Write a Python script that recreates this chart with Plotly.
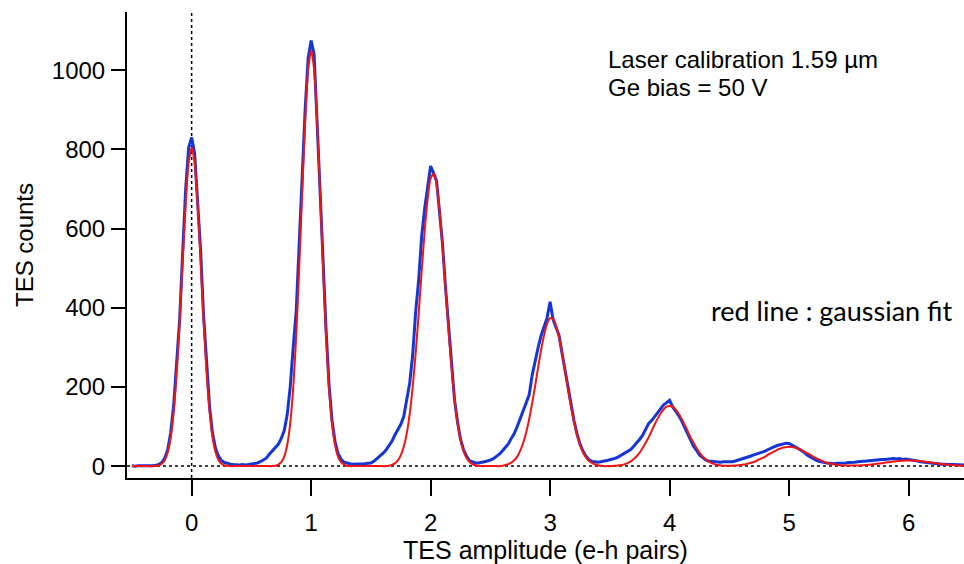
import plotly.graph_objects as go

# Histogram bins (TES amplitude in e-h pairs)
bin_start = -0.5
bin_width = 0.025

# Measured TES counts per bin (blue histogram)
tes_counts = [
    1, 0, 1, 1, 0, 1, 1, 1,
    2, 4, 9, 20, 42, 85, 155, 255, 372, 540, 700, 805, 830, 790, 660, 545, 380, 255, 150, 82, 45, 25, 14, 9, 6,
    5, 4, 3, 3, 4, 3, 4, 5, 6, 8, 11, 15, 20, 30, 38,
    45, 55, 70, 90, 130, 200, 300, 390, 560, 750, 900, 1030, 1075, 1040, 880, 700, 520, 345, 205, 115, 62, 32, 18, 10, 7,
    6, 5, 5, 5, 6, 6, 7, 8, 12, 18, 24, 32, 40,
    52, 62, 78, 90, 105, 125, 165, 210, 280, 390, 470, 580, 650, 705, 758, 740, 720, 640, 560, 450, 350, 255, 168, 112, 68, 42, 25, 14, 10, 8, 8,
    9, 11, 13, 15, 19, 24, 30,
    38, 46, 56, 70, 82, 100, 120, 140, 160, 180, 230, 270, 300, 330, 350, 375, 415, 370, 350, 330, 285, 240, 195, 152, 115, 82, 56, 38, 25, 16, 12, 11, 10, 11,
    12, 14, 16, 18,
    20, 24, 28, 32, 36, 42, 50, 58, 68, 78, 92, 108, 115, 125, 135, 148, 155, 160, 166, 150, 140, 128, 115, 98, 82, 66, 50, 40, 28, 22, 16, 13, 12, 11, 11, 10, 11, 11, 12,
    11, 13, 15, 18, 20, 22, 25, 28, 30, 33, 36, 38, 42, 46, 50, 52, 54, 56, 58, 57, 53, 50, 46, 40, 35, 28, 24, 19, 15, 12, 10, 8, 7, 7, 6, 7, 7, 8, 8, 9,
    9, 10, 11, 11, 12, 13, 14, 15, 15, 16, 17, 17, 18, 18, 19, 18, 19, 17, 18, 17, 16, 14, 13, 11, 10, 9, 8, 7, 6, 6, 5, 5, 4, 4, 4, 4, 3, 4, 3,
]

# Gaussian fit curve (red), read at the same bins
gauss_fit = [
    0, 0, 0, 0, 0, 0, 0, 0,
    1, 2, 6, 15, 35, 73, 139, 237, 369, 519, 662, 767, 805, 767, 662, 519, 369, 237, 139, 73, 35, 15, 6, 2, 1,
    0, 0, 0, 0, 0, 0, 0, 0, 0, 0, 0, 0, 0, 0, 0,
    1, 4, 10, 24, 54, 108, 197, 329, 499, 691, 872, 1002, 1050, 1002, 872, 691, 499, 329, 197, 108, 54, 24, 10, 4, 1,
    0, 0, 0, 0, 0, 0, 0, 0, 0, 0, 0, 0, 0,
    1, 3, 7, 14, 27, 49, 82, 132, 200, 285, 385, 491, 593, 675, 727, 739, 710, 645, 554, 449, 344, 249, 170, 110, 67, 39, 21, 11, 5, 2, 1,
    0, 0, 0, 0, 0, 0, 0,
    1, 3, 5, 9, 15, 24, 39, 59, 85, 119, 159, 203, 250, 294, 332, 360, 374, 372, 355, 325, 286, 240, 194, 150, 112, 79, 54, 35, 22, 13, 8, 4, 2, 1,
    0, 0, 0, 0.5,
    1, 2, 3, 5, 8, 12, 18, 25, 34, 46, 59, 73, 89, 105, 120, 133, 143, 150, 152, 150, 143, 133, 120, 105, 89, 73, 59, 46, 34, 25, 18, 12, 8, 5, 3, 2, 1, 1, 1,
    1, 1.5, 2, 3, 4, 6, 8, 10, 13, 17, 20, 24, 29, 33, 37, 41, 44, 47, 48, 49, 48, 47, 44, 41, 37, 33, 29, 24, 20, 17, 13, 10, 8, 6, 4.5, 3.2, 2.2, 1.8, 1.5, 1.6,
    1.3, 1.4, 1.7, 2.0, 2.4, 3.0, 3.7, 4.5, 5.4, 6.4, 7.4, 8.5, 9.5, 10.6, 11.5, 12.4, 13.0, 13.6, 13.9, 14.0, 13.9, 13.6, 13.0, 12.4, 11.5, 10.6, 9.5, 8.5, 7.4, 6.4, 5.4, 4.5, 3.7, 3.0, 2.4, 1.9, 1.5, 1.1, 0.8,
]

amplitude = [round(bin_start + i * bin_width, 4) for i in range(len(tes_counts))]

x_ticks = [0, 1, 2, 3, 4, 5, 6]
y_ticks = [0, 200, 400, 600, 800, 1000]

FONT = "Liberation Sans, Arial, sans-serif"

fig = go.Figure()
fig.add_trace(go.Scatter(
    x=amplitude, y=tes_counts, mode="lines",
    line=dict(color="#1536d4", width=3),
    name="TES counts",
))
fig.add_trace(go.Scatter(
    x=amplitude, y=gauss_fit, mode="lines",
    line=dict(color="#f01414", width=2, shape="spline", smoothing=0.6),
    name="gaussian fit",
))

# dotted reference lines at x=0 and y=0
fig.add_shape(type="line", xref="x", yref="paper", x0=0, x1=0, y0=0, y1=1.0,
              line=dict(color="black", width=1.5, dash="dot"), layer="below")
fig.add_shape(type="line", xref="paper", yref="y", x0=0, x1=1, y0=0, y1=0,
              line=dict(color="black", width=1.5, dash="dot"), layer="below")

fig.add_annotation(text="Laser calibration 1.59 µm", xref="paper", yref="paper",
                   x=0.5723, y=0.897, xanchor="left", yanchor="middle", showarrow=False,
                   font=dict(family=FONT, size=24, color="black"))
fig.add_annotation(text="Ge bias = 50 V", xref="paper", yref="paper",
                   x=0.5723, y=0.837, xanchor="left", yanchor="middle", showarrow=False,
                   font=dict(family=FONT, size=24, color="black"))
fig.add_annotation(text="red line : gaussian fit", xref="paper", yref="paper",
                   x=0.6953, y=0.3584, xanchor="left", yanchor="middle", showarrow=False,
                   font=dict(family="Lato, Open Sans, sans-serif", size=27, color="black"))

fig.update_layout(
    width=964, height=564,
    margin=dict(l=127, r=0, t=12, b=86),
    plot_bgcolor="white", paper_bgcolor="white",
    showlegend=False,
    font=dict(family=FONT, color="black"),
    xaxis=dict(
        range=[-0.541, 6.464], tickvals=x_ticks, ticktext=[str(v) for v in x_ticks],
        showline=True, linecolor="black", linewidth=2, mirror=False,
        ticks="outside", ticklen=16, tickwidth=1.5, tickcolor="black",
        ticklabelstandoff=6,
        tickfont=dict(family=FONT, size=24, color="black"),
        showgrid=False, zeroline=False,
        title=dict(text="TES amplitude (e-h pairs)", font=dict(family=FONT, size=25, color="black"), standoff=6),
        automargin=False,
    ),
    yaxis=dict(
        range=[-30, 1147], tickvals=y_ticks, ticktext=[str(v) for v in y_ticks],
        showline=True, linecolor="black", linewidth=2, mirror=False,
        ticks="outside", ticklen=14, tickwidth=1.5, tickcolor="black",
        ticklabelstandoff=1,
        tickfont=dict(family=FONT, size=24, color="black"),
        showgrid=False, zeroline=False,
        title=dict(text="TES counts", font=dict(family=FONT, size=24, color="black"), standoff=11),
        automargin=False,
    ),
)

fig.write_html("out.html")
